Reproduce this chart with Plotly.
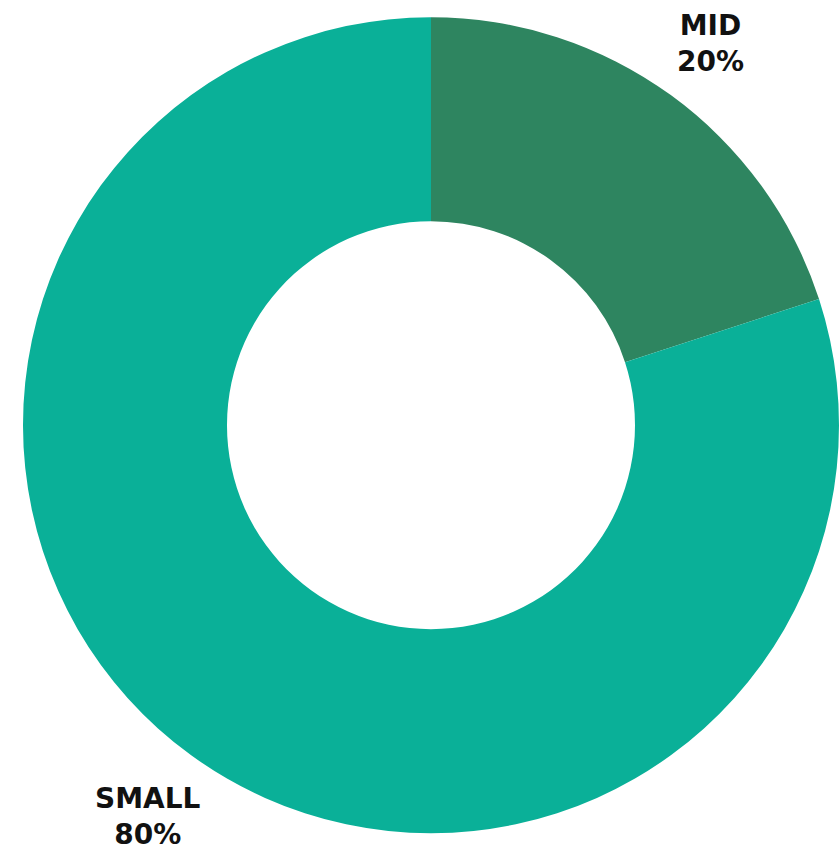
import plotly.graph_objects as go

labels = ["MID", "SMALL"]
values = [20, 80]
colors = ["#2E8560", "#0AB098"]
label_text = ["MID<br>20%", "SMALL<br>80%"]

fig = go.Figure(go.Pie(
    labels=labels,
    values=values,
    hole=0.5,
    sort=False,
    direction="clockwise",
    rotation=0,
    marker=dict(colors=colors, line=dict(width=0)),
    textinfo="none",
    hoverinfo="label+percent",
    domain=dict(x=[0.0274, 1.0], y=[0.0176, 0.982]),
    showlegend=False,
))

ann_pos = [(0.847, 0.949), (0.176, 0.040)]
for txt, (ax, ay) in zip(label_text, ann_pos):
    fig.add_annotation(
        x=ax, y=ay, xref="paper", yref="paper",
        text="<b>" + txt + "</b>", showarrow=False,
        font=dict(family="DejaVu Sans", size=28, color="#111111"),
        align="center", xanchor="center", yanchor="middle",
    )

fig.update_layout(
    width=839, height=850, autosize=False,
    margin=dict(l=0, r=0, t=0, b=0),
    paper_bgcolor="white", plot_bgcolor="white",
)
fig.write_html(
    "out.html",
    config={"displayModeBar": False},
    post_script="document.body.style.margin='0';document.body.style.overflow='hidden';",
)
